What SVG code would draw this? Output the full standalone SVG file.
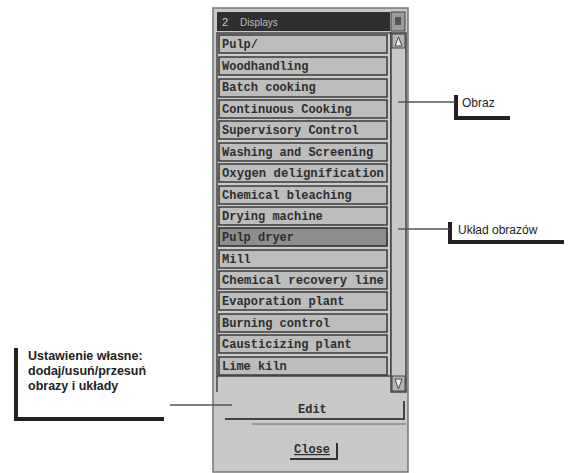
<svg xmlns="http://www.w3.org/2000/svg" width="576" height="473" viewBox="0 0 576 473">
<style>
.row{fill:#bdbdbd;stroke:#3a3a3a;stroke-width:1.5}
.sel{fill:#8e8e8e;stroke:#2a2a2a;stroke-width:1.5}
.rt{font-family:"Liberation Mono",monospace;font-weight:bold;font-size:12px;fill:#2e2e2e}
.ann{font-family:"Liberation Sans",Arial,sans-serif;font-size:12px;fill:#222}
.annb{font-family:"Liberation Sans",Arial,sans-serif;font-size:12.5px;font-weight:bold;fill:#222}
.br{fill:none;stroke:#222;stroke-width:4}
.ln{stroke:#555;stroke-width:1.5;fill:none}
</style>
<rect width="576" height="473" fill="#ffffff"/>
<g id="window">
<rect x="213" y="8" width="195" height="464" fill="#c8c8c8" stroke="#777" stroke-width="1.5"/>
<rect x="217" y="12" width="173" height="19" fill="#2f2f2f"/>
<text x="222" y="26" font-family="Liberation Sans,sans-serif" font-size="11" fill="#ccc">2</text>
<text x="240" y="26" font-family="Liberation Sans,sans-serif" font-size="10" fill="#bbb">Displays</text>
<rect x="391" y="12" width="14" height="19" fill="#9a9a9a" stroke="#444"/>
<rect x="395" y="17" width="6" height="8" fill="#555"/>
<rect x="217" y="33" width="174" height="343" fill="#cbcbcb" stroke="#444" stroke-width="1.5"/>
<line x1="217" y1="376" x2="217" y2="392" stroke="#444" stroke-width="1.5"/>
</g>
<g id="scrollbar">
<rect x="391" y="33" width="15" height="359" fill="#c8c8c8" stroke="#444" stroke-width="1.5"/>
<rect x="392" y="34" width="13" height="14" fill="#b5b5b5" stroke="#444"/>
<path d="M395 46 L398.5 37 L402 46 Z" fill="#eee" stroke="#444"/>
<rect x="392" y="376" width="13" height="15" fill="#b5b5b5" stroke="#444"/>
<path d="M395 379 L398.5 389 L402 379 Z" fill="#eee" stroke="#444"/>
</g>
<g id="rows">
<g id="r1"><rect class="row" x="219" y="35" width="168" height="18"/><text class="rt" x="222" y="48">Pulp/</text></g>
<g id="r2"><rect class="row" x="219" y="57" width="168" height="18"/><text class="rt" x="222" y="70">Woodhandling</text></g>
<g id="r3"><rect class="row" x="219" y="79" width="168" height="18"/><text class="rt" x="222" y="91">Batch cooking</text></g>
<g id="r4"><rect class="row" x="219" y="100" width="168" height="18"/><text class="rt" x="222" y="113">Continuous Cooking</text></g>
<g id="r5"><rect class="row" x="219" y="121" width="168" height="18"/><text class="rt" x="222" y="134">Supervisory Control</text></g>
<g id="r6"><rect class="row" x="219" y="143" width="168" height="18"/><text class="rt" x="222" y="156">Washing and Screening</text></g>
<g id="r7"><rect class="row" x="219" y="164" width="168" height="18"/><text class="rt" x="222" y="177" textLength="162" lengthAdjust="spacingAndGlyphs">Oxygen delignification</text></g>
<g id="r8"><rect class="row" x="219" y="186" width="168" height="18"/><text class="rt" x="222" y="199">Chemical bleaching</text></g>
<g id="r9"><rect class="row" x="219" y="207" width="168" height="18"/><text class="rt" x="222" y="220">Drying machine</text></g>
<g id="r10"><rect class="sel" x="219" y="228" width="168" height="18"/><text class="rt" x="222" y="241">Pulp dryer</text></g>
<g id="r11"><rect class="row" x="219" y="250" width="168" height="18"/><text class="rt" x="222" y="263">Mill</text></g>
<g id="r12"><rect class="row" x="219" y="271" width="168" height="18"/><text class="rt" x="222" y="284" textLength="162" lengthAdjust="spacingAndGlyphs">Chemical recovery line</text></g>
<g id="r13"><rect class="row" x="219" y="292" width="168" height="18"/><text class="rt" x="222" y="305">Evaporation plant</text></g>
<g id="r14"><rect class="row" x="219" y="314" width="168" height="18"/><text class="rt" x="222" y="327">Burning control</text></g>
<g id="r15"><rect class="row" x="219" y="335" width="168" height="18"/><text class="rt" x="222" y="348">Causticizing plant</text></g>
<g id="r16"><rect class="row" x="219" y="357" width="168" height="18"/><text class="rt" x="222" y="370">Lime kiln</text></g>
</g>
<g id="editButton">
<path d="M225 419 L404 419 L404 401" fill="none" stroke="#444" stroke-width="2"/>
<line x1="252" y1="424" x2="406" y2="424" stroke="#666" stroke-width="1"/>
<text class="rt" x="298" y="413">Edit</text>
</g>
<g id="closeButton">
<path d="M290 459 L337 459 L337 443" fill="none" stroke="#333" stroke-width="2"/>
<text class="rt" x="294" y="453" text-decoration="underline">Close</text>
</g>
<g id="labelObraz">
<path class="br" d="M456 95 V118 H510"/>
<text class="ann" x="462" y="107">Obraz</text>
</g>
<g id="labelUklad">
<path class="br" d="M450 222 V242 H564"/>
<text class="ann" x="458" y="234">Układ obrazów</text>
</g>
<g id="labelUstawienie">
<path class="br" d="M16 348 V419 H164"/>
<text class="annb" x="28" y="360">Ustawienie własne:</text>
<text class="annb" x="28" y="375">dodaj/usuń/przesuń</text>
<text class="annb" x="28" y="390">obrazy i układy</text>
</g>
<g id="connectors">
<line class="ln" x1="398" y1="102" x2="455" y2="102"/>
<line class="ln" x1="398" y1="229" x2="449" y2="229"/>
<line class="ln" x1="170" y1="405" x2="232" y2="405"/>
</g>
</svg>
